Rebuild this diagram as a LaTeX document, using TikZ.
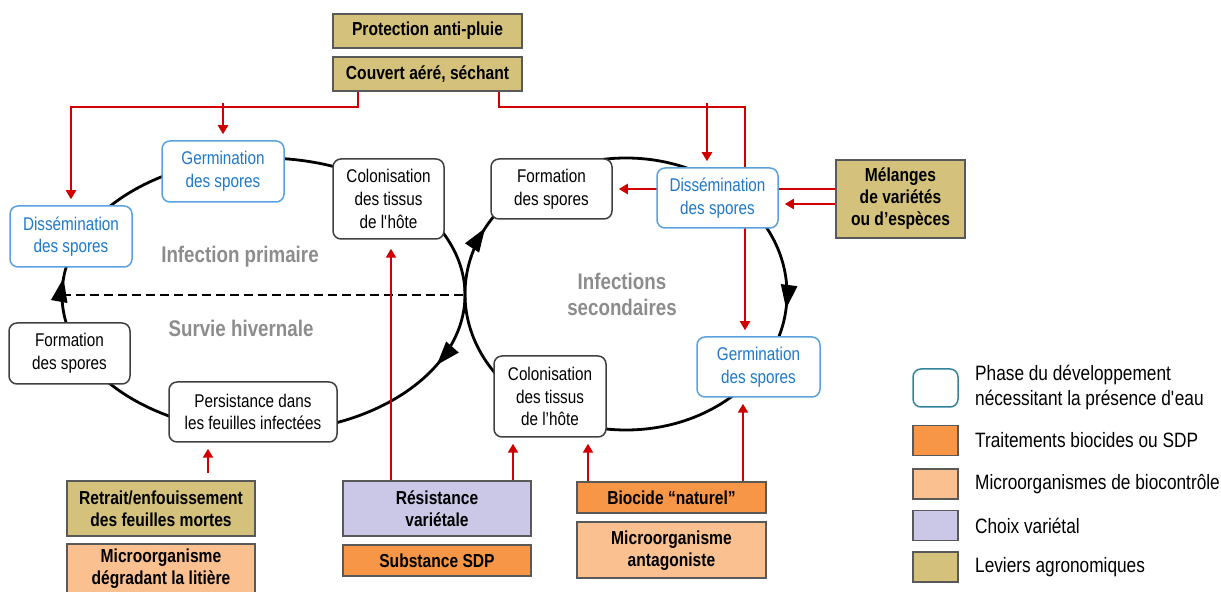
\documentclass[tikz,border=0pt]{standalone}
\usepackage{fontspec}
\setmainfont{Liberation Sans}[FakeStretch=0.83]
\usepackage{tikz}
\usetikzlibrary{positioning,backgrounds,arrows.meta,decorations.markings}
\definecolor{agro}{RGB}{212,193,123}
\definecolor{biocide}{RGB}{247,150,70}
\definecolor{microorg}{RGB}{250,192,144}
\definecolor{variet}{RGB}{202,200,230}
\definecolor{eaublue}{RGB}{31,120,200}
\definecolor{eauborder}{RGB}{90,162,222}
\definecolor{legteal}{RGB}{49,132,155}
\definecolor{lblgray}{RGB}{140,140,140}
\definecolor{levred}{RGB}{208,0,0}

\begin{document}
\begin{tikzpicture}[x=0.5pt,y=-0.5pt,
  phase/.style={
    draw=black!75,
    fill=white,
    line width=0.75pt,
    rounded corners=4pt,
    align=center,
    inner sep=0pt,
    font={\fontsize{9.2}{11.3}\selectfont},
    },
  phaseW/.style={phase,draw=eauborder,text=eaublue},
  levA/.style={
    draw=black!65,
    fill=agro,
    line width=1.1pt,
    align=center,
    inner sep=0pt,
    font={\bfseries\fontsize{9.4}{11}\selectfont},
%    text height=12pt,
    },
  levB/.style={levA,fill=biocide},
  levM/.style={levA,fill=microorg},
  levV/.style={levA,fill=variet},
  stagelbl/.style={text=lblgray,align=center,font={\bfseries\fontsize{11.3}{13}\selectfont}},
  redarrow/.style={draw=levred,line width=1.2pt,-{Triangle[length=4.5pt,width=5pt]},shorten >=3pt},
  cycletip/.style={-{Triangle[length=12pt,width=8pt]}},
  cycleline/.style={line width=1.4pt,postaction={decorate}},
  legbox/.style={draw=black!65,line width=0.75pt,minimum width=22.5pt,minimum height=15pt,inner sep=0pt},
  legtext/.style={align=left,inner sep=0pt,font={\fontsize{10.4}{12.5}\selectfont}},
  ]
  \useasboundingbox (0,0) rectangle (1221,592);

  % levers at the top
  \node[levA, minimum width=94.5pt, minimum height=17pt] (protect) at (427.5,31) {Protection anti-pluie};
  \node[levA, below=3.5pt of protect, minimum width=94.5pt, minimum height=17pt] (couvert) {Couvert aéré, séchant};

  % primary infection cycle
  \node[phaseW, minimum width=61pt, minimum height=30.5pt] (dissL) at (71,236.5) {Dissémination\\des spores};
  \node[phaseW, minimum width=61pt, minimum height=30.5pt] (germL) at (223,171.5) {Germination\\des spores};
  \node[phase, minimum width=55.5pt, minimum height=40pt] (colL) at (388.5,199) {Colonisation\\des tissus\\de l\textquotesingle hôte};
  \node[phase, minimum width=60.5pt, minimum height=30.5pt] (formL) at (69.5,353.5) {Formation\\des spores};
  \node[phase, minimum width=84pt, minimum height=30pt] (persist) at (253,412) {Persistance dans\\les feuilles infectées};

  % secondary infections cycle
  \node[phase, minimum width=60.5pt, minimum height=30pt] (formR) at (551.5,189) {Formation\\des spores};
  \node[phaseW, minimum width=60.5pt, minimum height=30pt] (dissR) at (717.5,198) {Dissémination\\des spores};
  \node[phaseW, minimum width=61.5pt, minimum height=30pt] (germR) at (758.5,367) {Germination\\des spores};
  \node[phase, minimum width=56pt, minimum height=40.5pt] (colR) at (550,396.5) {Colonisation\\des tissus\\de l’hôte};
  \node[levA, minimum width=64.5pt, minimum height=39pt] (melange) at (900.5,199) {Mélanges\\de variétés\\ou d’espèces};

  \node[stagelbl] (lblPrim) at (240,257) {Infection primaire};
  \node[stagelbl] (lblSurv) at (241,328) {Survie hivernale};
  \node[stagelbl] (lblSec) at (622,294) {Infections\\secondaires};

  % levers at the bottom
  \node[levA, minimum width=94pt, minimum height=27.5pt] (retrait) at (161,508.5) {Retrait/enfouissement\\des feuilles mortes};
  \node[levM, below=3pt of retrait, minimum width=94pt, minimum height=24.5pt] (degrad) {Microorganisme\\dégradant la litière};
  \node[levV, minimum width=94pt, minimum height=27.5pt] (resist) at (437,508.5) {Résistance\\variétale};
  \node[levB, below=3.5pt of resist, minimum width=94pt, minimum height=15.5pt] (sdp) {Substance SDP};
  \node[levB, minimum width=94.5pt, minimum height=15.5pt] (biocide) at (671.5,497.5) {Biocide “naturel”};
  \node[levM, below=3.5pt of biocide, minimum width=94.5pt, minimum height=28pt] (antago) {Microorganisme\\antagoniste};

  % legend
  \node[legbox, draw=legteal, rounded corners=4pt, minimum height=19pt] (legW) at (935.5,388) {};
  \node[legbox, fill=biocide, below=8.5pt of legW] (legB) {};
  \node[legbox, fill=microorg, below=6pt of legB] (legM) {};
  \node[legbox, fill=variet, below=5pt of legM] (legV) {};
  \node[legbox, fill=agro, below=5pt of legV] (legA) {};
  \node[legtext, right=8pt of legW] (txtW) {Phase du développement\\nécessitant la présence d\textquotesingle eau};
  \node[legtext, right=8pt of legB] (txtB) {Traitements biocides ou SDP};
  \node[legtext, right=8pt of legM] (txtM) {Microorganismes de biocontrôle};
  \node[legtext, right=8pt of legV] (txtV) {Choix variétal};
  \node[legtext, right=8pt of legA] (txtA) {Leviers agronomiques};

  \begin{scope}[on background layer]
    \coordinate (cL) at (263.5,295);
    \coordinate (cR) at (626,294);
    \draw[cycleline, decoration={markings,
        mark=at position 0.072 with {\arrow{Triangle[length=12pt,width=8pt]}},
        mark=at position 0.516 with {\arrow{Triangle[length=12pt,width=8pt]}}}]
      (cL) ellipse [x radius=201.5, y radius=137];
    \draw[cycleline, decoration={markings,
        mark=at position 0.016 with {\arrow{Triangle[length=12pt,width=8pt]}},
        mark=at position 0.575 with {\arrow{Triangle[length=12pt,width=8pt]}}}]
      (cR) ellipse [x radius=161, y radius=136];
    \draw[line width=0.8pt, dash pattern=on 4.5pt off 2.5pt] (cL) ++(-201.5,0) -- ++(403,0);

    \draw[redarrow] ([xshift=-34.75pt]couvert.south) -- ++(0,15) -| (dissL.north);
    \draw[redarrow] ([yshift=18.5pt]germL.north) -- (germL.north);
    \draw[redarrow] ([xshift=35.75pt]couvert.south) -- ++(0,15) -| ([xshift=-6.75pt]germR.north);
    \draw[redarrow] ([xshift=-5.25pt,yshift=32pt]dissR.north) -- ([xshift=-5.25pt]dissR.north);
    \draw[redarrow] ([yshift=5pt]melange.west) -- (formR.east);
    \draw[redarrow] ([yshift=-2.5pt]melange.west) -- ([yshift=-3pt]dissR.east);

    \draw[redarrow, shorten <=3.5pt] ([xshift=23.5pt]retrait.north) -- ([xshift=-22.5pt]persist.south);
    \draw[redarrow, shorten >=4.5pt] ([xshift=-23pt]resist.north) -- ([xshift=1.25pt]colL.south);
    \draw[redarrow] ([xshift=38pt]resist.north) -- ([xshift=-18.5pt]colR.south);
    \draw[redarrow] ([xshift=-41.75pt]biocide.north) -- ([xshift=19pt]colR.south);
    \draw[redarrow] ([xshift=35.75pt]biocide.north) -- ([xshift=-7.75pt]germR.south);
  \end{scope}
\end{tikzpicture}
\end{document}
